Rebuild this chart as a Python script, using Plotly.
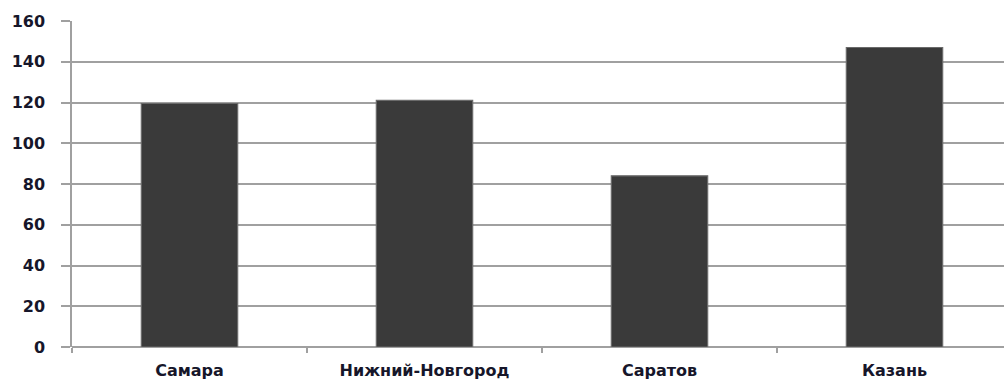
import plotly.graph_objects as go

# Cities and their values
cities = ["Самара", "Нижний-Новгород", "Саратов", "Казань"]
values = [119.5, 121, 84, 147]
y_ticks = [0, 20, 40, 60, 80, 100, 120, 140, 160]

fig = go.Figure(
    go.Bar(
        x=cities,
        y=values,
        width=0.41,
        marker=dict(color="#3a3a3a", line=dict(color="#6a6a6a", width=1.2)),
    )
)

grid_color = "#a0a0a0"
label_font = dict(size=16, family="DejaVu Sans", weight="bold", color="#16162a")

fig.update_layout(
    width=1004,
    height=381,
    margin=dict(l=72, r=0, t=21, b=34),
    paper_bgcolor="white",
    plot_bgcolor="white",
    showlegend=False,
    font=dict(family="DejaVu Sans", color="#16162a"),
    xaxis=dict(
        type="category",
        range=[-0.5, 3.466],
        automargin=False,
        showgrid=False,
        showline=False,
        ticks="outside",
        tickson="boundaries",
        ticklen=5,
        tickwidth=1.5,
        tickcolor=grid_color,
        tickfont=label_font,
        ticklabelstandoff=12,
    ),
    yaxis=dict(
        range=[0, 160],
        tickvals=y_ticks,
        automargin=False,
        showgrid=True,
        gridcolor=grid_color,
        gridwidth=1.5,
        zeroline=True,
        zerolinecolor=grid_color,
        zerolinewidth=1.5,
        showline=True,
        linecolor=grid_color,
        linewidth=1.5,
        ticks="outside",
        ticklen=9,
        tickwidth=1.5,
        tickcolor=grid_color,
        tickfont=label_font,
        ticklabelstandoff=13,
    ),
)

fig.write_html("out.html")
